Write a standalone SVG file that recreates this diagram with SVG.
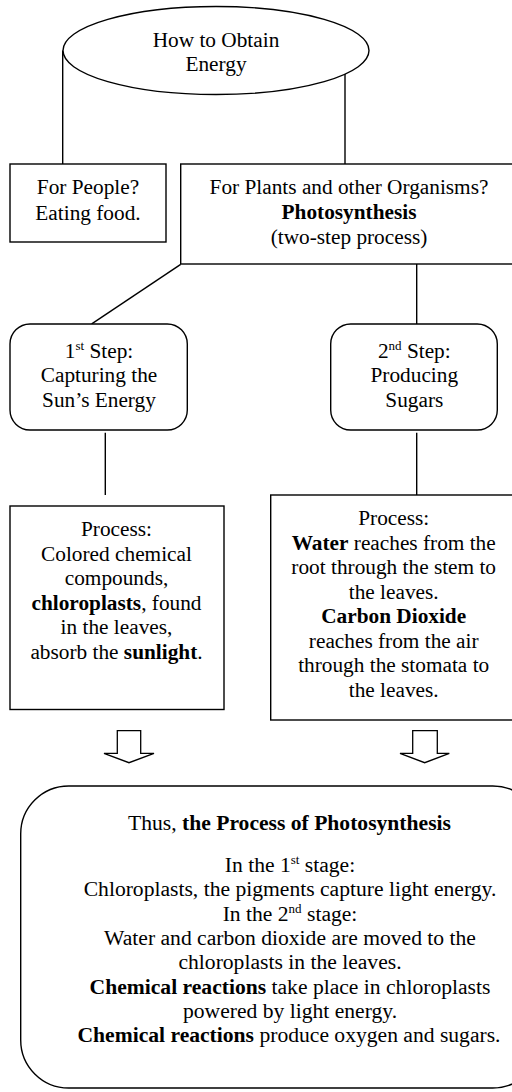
<svg xmlns="http://www.w3.org/2000/svg" width="512" height="1092" viewBox="0 0 512 1092">
<style>
.s{fill:#fff;stroke:#000;stroke-width:1.4}
.c line{stroke:#000;stroke-width:1.4}
.c path{fill:#fff;stroke:#000;stroke-width:1.3;stroke-linejoin:miter}
text{font-family:"Liberation Serif","Times New Roman",serif;font-size:21.3px;fill:#000;text-anchor:middle}
#summary text{font-size:21.6px}
.b{font-weight:bold}
.sup{font-size:13px}
#summary .sup{font-size:13px}
</style>
<rect width="512" height="1092" fill="#fff"/>
<g id="connectors" class="c">
<line x1="62.7" y1="50.5" x2="62.7" y2="164"/>
<line x1="345" y1="74" x2="345" y2="164"/>
<line x1="180.7" y1="264.3" x2="91.7" y2="323.8"/>
<line x1="416.7" y1="264" x2="416.7" y2="324"/>
<line x1="105.3" y1="432.7" x2="105.3" y2="495"/>
<line x1="416.7" y1="432.7" x2="416.7" y2="495"/>
<path d="M117.3,730.7 H140.7 V753.3 H154 L129,762.7 L104,753.3 H117.3 Z"/>
<path d="M412.7,730.7 H437.3 V753.3 H449.3 L424.7,762.7 L400,753.3 H412.7 Z"/>
</g>
<g id="root">
<ellipse class="s" cx="216" cy="50.5" rx="153" ry="44"/>
<text x="216" y="47">How to Obtain</text>
<text x="216" y="71">Energy</text>
</g>
<g id="people">
<rect class="s" x="10" y="164" width="156" height="78"/>
<text x="88" y="194">For People?</text>
<text x="88" y="219.5">Eating food.</text>
</g>
<g id="plants">
<rect class="s" x="180.7" y="164" width="340" height="100"/>
<text x="349" y="194">For Plants and other Organisms?</text>
<text x="349" y="219" class="b">Photosynthesis</text>
<text x="349" y="244">(two-step process)</text>
</g>
<g id="step1">
<rect class="s" x="10" y="324" width="177.3" height="106" rx="20"/>
<text x="99" y="357.5">1<tspan class="sup" dy="-8">st</tspan><tspan dy="8"> Step:</tspan></text>
<text x="99" y="382">Capturing the</text>
<text x="99" y="406.5">Sun’s Energy</text>
</g>
<g id="step2">
<rect class="s" x="330.7" y="324" width="166.6" height="106" rx="20"/>
<text x="414.3" y="357.5">2<tspan class="sup" dy="-8">nd</tspan><tspan dy="8"> Step:</tspan></text>
<text x="414.3" y="382">Producing</text>
<text x="414.3" y="406.5">Sugars</text>
</g>
<g id="process1">
<rect class="s" x="10" y="506" width="214" height="203.5"/>
<text x="116.5" y="536">Process:</text>
<text x="116.5" y="560.5">Colored chemical</text>
<text x="116.5" y="585">compounds,</text>
<text x="116.5" y="609.5"><tspan class="b">chloroplasts</tspan>, found</text>
<text x="116.5" y="634">in the leaves,</text>
<text x="116.5" y="658.5">absorb the <tspan class="b">sunlight</tspan>.</text>
</g>
<g id="process2">
<rect class="s" x="270.7" y="495" width="260" height="225"/>
<text x="393.7" y="525">Process:</text>
<text x="393.7" y="549.5"><tspan class="b">Water</tspan> reaches from the</text>
<text x="393.7" y="574">root through the stem to</text>
<text x="393.7" y="598.5">the leaves.</text>
<text x="393.7" y="623" class="b">Carbon Dioxide</text>
<text x="393.7" y="647.5">reaches from the air</text>
<text x="393.7" y="672">through the stomata to</text>
<text x="393.7" y="696.5">the leaves.</text>
</g>
<g id="summary">
<rect class="s" x="20.7" y="786" width="520" height="302" rx="48"/>
<text x="289.5" y="829.5">Thus, <tspan class="b">the Process of Photosynthesis</tspan></text>
<text x="290" y="872">In the 1<tspan class="sup" dy="-8">st</tspan><tspan dy="8"> stage:</tspan></text>
<text x="290" y="896.3">Chloroplasts, the pigments capture light energy.</text>
<text x="290" y="920.6">In the 2<tspan class="sup" dy="-8">nd</tspan><tspan dy="8"> stage:</tspan></text>
<text x="290" y="944.9">Water and carbon dioxide are moved to the</text>
<text x="290" y="969.2">chloroplasts in the leaves.</text>
<text x="290" y="993.5"><tspan class="b">Chemical reactions</tspan> take place in chloroplasts</text>
<text x="290" y="1017.8">powered by light energy.</text>
<text x="289" y="1042.1"><tspan class="b">Chemical reactions</tspan> produce oxygen and sugars.</text>
</g>
</svg>
